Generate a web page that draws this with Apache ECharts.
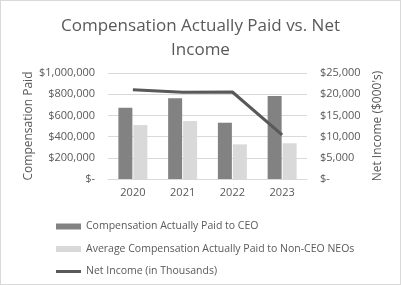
<!DOCTYPE html>
<html><head><meta charset="utf-8">
<script src="https://cdn.jsdelivr.net/npm/echarts@6/dist/echarts.min.js"></script>
<style>html,body{margin:0;padding:0;background:#fff}#c{width:401px;height:285px;box-sizing:border-box;border:1px solid #d9d9d9}</style>
</head><body><div id="c"></div>
<script>
const years = ['2020','2021','2022','2023'];
const ceoPaid = [672000, 761000, 531000, 783000];
const neoPaid = [509000, 547000, 327000, 337000];
const netIncome = [21060, 20440, 20520, 10380];
const leftTicks = ['$-','$200,000','$400,000','$600,000','$800,000','$1,000,000'];
const rightTicks = ['$-','$5,000','$10,000','$15,000','$20,000','$25,000'];
const FONT = 'Open Sans';
const chart = echarts.init(document.getElementById('c'));
chart.setOption({
  animation:false,
  textStyle:{fontFamily:FONT},
  title:{text:'Compensation Actually Paid vs. Net\nIncome',left:'center',top:8,
    textStyle:{fontFamily:FONT,fontSize:17,fontWeight:'normal',color:'#595959',lineHeight:24}},
  grid:{left:107,right:93,top:72,height:106},
  legend:{orient:'vertical',left:50,top:215,itemGap:11.5,itemWidth:25,itemHeight:6,
    symbolKeepAspect:true,
    textStyle:{fontFamily:FONT,fontSize:10.5,color:'#595959'},
    data:[{name:'Compensation Actually Paid to CEO',icon:'rect',itemStyle:{color:'#828282'}},
          {name:'Average Compensation Actually Paid to Non-CEO NEOs',icon:'rect',itemStyle:{color:'#d9d9d9'}},
          {name:'Net Income (in Thousands)',icon:'path://M0,0 L25,0 L25,3 L0,3 Z',itemStyle:{color:'#595959'}}]},
  xAxis:{type:'category',data:years,axisTick:{show:false},
    axisLine:{lineStyle:{color:'#d9d9d9'}},
    axisLabel:{color:'#595959',fontSize:11,margin:8}},
  yAxis:[{type:'value',min:0,max:1000000,interval:200000,
      name:'Compensation Paid',nameLocation:'middle',nameGap:73,nameRotate:90,
      nameTextStyle:{color:'#595959',fontSize:12},
      splitLine:{lineStyle:{color:'#d9d9d9'}},
      axisLabel:{color:'#595959',fontSize:11,margin:13,formatter:(v)=>leftTicks[Math.round(v/200000)]}},
    {type:'value',min:0,max:25000,interval:5000,
      name:"Net Income ($000's)",nameLocation:'middle',nameGap:65,nameRotate:90,
      nameTextStyle:{color:'#595959',fontSize:12},
      splitLine:{show:false},
      axisLabel:{color:'#595959',fontSize:11,margin:13,formatter:(v)=>rightTicks[Math.round(v/5000)]}}],
  series:[
    {name:'Compensation Actually Paid to CEO',type:'bar',data:ceoPaid,barWidth:14,barGap:'7%',
      itemStyle:{color:'#828282'}},
    {name:'Average Compensation Actually Paid to Non-CEO NEOs',type:'bar',data:neoPaid,barWidth:14,
      itemStyle:{color:'#d9d9d9'}},
    {name:'Net Income (in Thousands)',type:'line',yAxisIndex:1,data:netIncome,symbol:'none',
      lineStyle:{color:'#595959',width:3},itemStyle:{color:'#595959'}}
  ]
});
</script></body></html>
